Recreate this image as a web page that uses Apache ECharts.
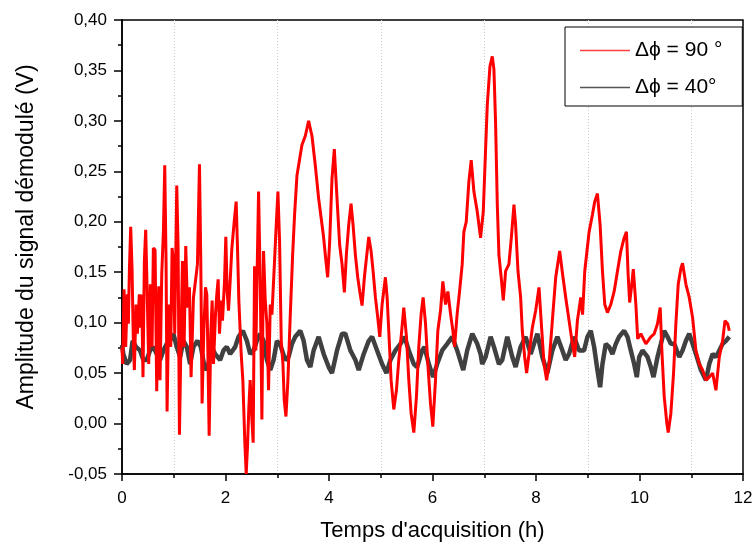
<!DOCTYPE html>
<html>
<head>
<meta charset="utf-8">
<script src="https://cdn.jsdelivr.net/npm/echarts@6/dist/echarts.min.js"></script>
<style>html,body{margin:0;padding:0;background:#fff}#c{width:756px;height:547px}</style>
</head>
<body>
<div id="c"></div>
<script>
const redName = 'Δϕ = 90 °';
const blackName = 'Δϕ = 40°';
const xTitle = "Temps d'acquisition (h)";
const yTitle = 'Amplitude du signal démodulé (V)';

const redHours = [0,0.013,0.039,0.071,0.103,0.123,0.142,0.168,0.194,0.219,0.239,0.271,0.297,0.335,0.361,0.381,0.406,0.432,0.458,0.484,0.516,0.548,0.581,0.606,0.639,0.671,0.71,0.735,0.768,0.8,0.826,0.852,0.871,0.897,0.916,0.942,0.968,0.994,1.019,1.058,1.084,1.11,1.142,1.168,1.2,1.232,1.265,1.303,1.335,1.381,1.419,1.458,1.497,1.523,1.548,1.581,1.613,1.639,1.658,1.684,1.716,1.742,1.768,1.806,1.832,1.858,1.884,1.916,1.942,1.981,2.006,2.032,2.058,2.09,2.123,2.168,2.206,2.232,2.258,2.303,2.335,2.374,2.4,2.426,2.452,2.477,2.51,2.535,2.561,2.587,2.606,2.639,2.671,2.703,2.735,2.768,2.8,2.832,2.865,2.897,2.929,2.974,3.013,3.045,3.077,3.11,3.135,3.168,3.206,3.252,3.297,3.335,3.381,3.432,3.477,3.542,3.606,3.671,3.735,3.8,3.865,3.897,3.929,3.974,4.013,4.058,4.103,4.155,4.206,4.252,4.297,4.335,4.381,4.426,4.465,4.51,4.555,4.594,4.639,4.684,4.723,4.768,4.813,4.852,4.897,4.942,4.981,5.026,5.09,5.123,5.155,5.2,5.252,5.303,5.348,5.394,5.445,5.497,5.542,5.587,5.639,5.69,5.735,5.781,5.819,5.865,5.91,5.961,6.006,6.058,6.103,6.155,6.2,6.252,6.297,6.348,6.394,6.426,6.477,6.523,6.574,6.606,6.652,6.703,6.748,6.8,6.865,6.929,6.981,7.026,7.058,7.11,7.155,7.187,7.219,7.252,7.284,7.329,7.368,7.413,7.477,7.523,7.574,7.606,7.652,7.703,7.735,7.781,7.819,7.865,7.929,7.994,8.058,8.103,8.155,8.206,8.252,8.316,8.381,8.458,8.506,8.574,8.639,8.703,8.748,8.8,8.865,8.9,8.942,9.026,9.09,9.135,9.187,9.239,9.284,9.329,9.381,9.445,9.51,9.574,9.639,9.703,9.748,9.78,9.81,9.845,9.88,9.93,9.965,10.026,10.123,10.219,10.284,10.348,10.4,10.432,10.477,10.529,10.555,10.606,10.658,10.703,10.748,10.8,10.832,10.897,10.961,11.026,11.09,11.155,11.219,11.284,11.348,11.413,11.477,11.542,11.606,11.652,11.703,11.735];
const redAmplitude = [0.075,0.059,0.133,0.076,0.128,0.099,0.151,0.195,0.154,0.082,0.053,0.118,0.089,0.128,0.095,0.128,0.046,0.161,0.192,0.135,0.059,0.138,0.076,0.174,0.172,0.032,0.136,0.043,0.148,0.190,0.256,0.158,0.012,0.095,0.118,0.076,0.174,0.161,0.089,0.236,0.174,-0.011,0.089,0.161,0.076,0.176,0.115,0.135,0.046,0.125,0.141,0.158,0.257,0.158,0.020,0.092,0.135,0.128,0.076,-0.012,0.089,0.122,0.059,0.108,0.128,0.143,0.089,0.122,0.102,0.141,0.185,0.131,0.112,0.141,0.174,0.200,0.220,0.174,0.122,0.069,0.043,-0.019,-0.050,-0.022,0.017,0.043,0.004,-0.019,0.156,0.0725,0.135,0.230,0.141,0.004,0.171,0.122,0.099,0.033,0.118,0.108,0.141,0.190,0.230,0.181,0.082,0.059,0.023,0.007,0.043,0.108,0.167,0.207,0.246,0.262,0.276,0.285,0.300,0.285,0.256,0.223,0.197,0.184,0.167,0.145,0.180,0.243,0.272,0.223,0.177,0.158,0.130,0.167,0.197,0.218,0.197,0.167,0.145,0.131,0.117,0.145,0.164,0.185,0.171,0.151,0.125,0.105,0.086,0.118,0.145,0.125,0.092,0.043,0.014,0.033,0.063,0.086,0.115,0.086,0.043,0.010,-0.009,0.027,0.076,0.109,0.125,0.099,0.059,0.020,-0.003,0.043,0.092,0.112,0.141,0.118,0.131,0.109,0.092,0.076,0.109,0.131,0.158,0.190,0.200,0.240,0.261,0.230,0.210,0.184,0.210,0.272,0.315,0.354,0.364,0.351,0.298,0.217,0.167,0.144,0.122,0.151,0.158,0.184,0.217,0.197,0.151,0.125,0.092,0.066,0.050,0.069,0.095,0.112,0.135,0.099,0.059,0.043,0.059,0.102,0.145,0.171,0.151,0.125,0.102,0.079,0.066,0.102,0.125,0.108,0.151,0.190,0.207,0.220,0.228,0.197,0.151,0.118,0.110,0.118,0.131,0.151,0.171,0.184,0.190,0.148,0.120,0.135,0.153,0.118,0.084,0.089,0.079,0.086,0.089,0.099,0.115,0.0725,0.027,0.000,-0.009,0.010,0.050,0.099,0.138,0.154,0.159,0.138,0.125,0.105,0.0725,0.059,0.053,0.043,0.046,0.050,0.033,0.066,0.082,0.102,0.099,0.092];

const blackHours = [0,0.026,0.09,0.155,0.206,0.271,0.348,0.413,0.477,0.542,0.606,0.671,0.735,0.8,0.865,0.929,0.994,1.058,1.123,1.187,1.252,1.316,1.381,1.458,1.523,1.606,1.671,1.735,1.8,1.897,1.961,2.026,2.09,2.187,2.252,2.335,2.413,2.477,2.542,2.606,2.671,2.735,2.8,2.865,2.929,2.994,3.058,3.155,3.219,3.284,3.348,3.445,3.51,3.574,3.639,3.703,3.8,3.897,3.994,4.058,4.155,4.252,4.316,4.413,4.51,4.574,4.671,4.768,4.832,4.929,5.026,5.11,5.187,5.284,5.381,5.458,5.542,5.639,5.703,5.8,5.845,5.929,6.013,6.09,6.187,6.284,6.381,6.477,6.594,6.671,6.768,6.865,6.929,6.961,7.026,7.123,7.187,7.284,7.348,7.445,7.542,7.606,7.703,7.8,7.897,7.961,8.026,8.123,8.219,8.316,8.413,8.51,8.574,8.639,8.735,8.832,8.929,8.994,9.058,9.123,9.187,9.239,9.284,9.348,9.413,9.477,9.542,9.606,9.703,9.768,9.832,9.897,9.948,9.994,10.058,10.155,10.219,10.271,10.348,10.413,10.477,10.542,10.606,10.671,10.768,10.832,10.897,10.961,11.026,11.09,11.187,11.284,11.348,11.413,11.477,11.542,11.606,11.671,11.735];
const blackAmplitude = [0.078,0.069,0.059,0.063,0.082,0.076,0.0725,0.063,0.063,0.0725,0.076,0.069,0.063,0.0725,0.079,0.082,0.089,0.076,0.066,0.082,0.076,0.059,0.076,0.082,0.076,0.053,0.059,0.076,0.069,0.063,0.0725,0.076,0.069,0.076,0.086,0.092,0.082,0.069,0.0725,0.082,0.089,0.082,0.063,0.053,0.063,0.082,0.078,0.063,0.066,0.079,0.086,0.092,0.082,0.063,0.056,0.0725,0.086,0.069,0.056,0.050,0.0725,0.089,0.089,0.0725,0.063,0.053,0.069,0.082,0.086,0.0725,0.059,0.050,0.063,0.0725,0.079,0.086,0.0725,0.059,0.056,0.0725,0.076,0.059,0.046,0.059,0.0725,0.079,0.086,0.0725,0.053,0.0725,0.089,0.079,0.069,0.059,0.066,0.086,0.076,0.059,0.063,0.086,0.066,0.056,0.076,0.086,0.069,0.079,0.089,0.066,0.050,0.0725,0.086,0.0725,0.063,0.069,0.086,0.0725,0.0725,0.086,0.092,0.076,0.053,0.036,0.059,0.079,0.076,0.069,0.079,0.086,0.092,0.086,0.0725,0.059,0.046,0.066,0.0725,0.066,0.056,0.046,0.066,0.079,0.092,0.086,0.079,0.079,0.066,0.0725,0.082,0.089,0.079,0.069,0.053,0.043,0.059,0.069,0.066,0.0725,0.079,0.082,0.086];

const xTicks = {min: 0, max: 12, interval: 2};
const yTicks = {min: -0.05, max: 0.40, interval: 0.05};

const FONT = "'Liberation Sans', Arial, sans-serif";
const zip = (a, b) => a.map((v, i) => [v, b[i]]);

const chart = echarts.init(document.getElementById('c'), null, {renderer: 'canvas'});
chart.setOption({
  animation: false,
  backgroundColor: '#fff',
  grid: {left: 122, right: 13, top: 20, bottom: 69, show: true, borderColor: '#000', borderWidth: 1.5, backgroundColor: 'transparent'},
  legend: {
    orient: 'vertical', left: 565, top: 27,
    data: [redName, blackName],
    icon: 'rect', itemWidth: 50, itemHeight: 1.5, itemGap: 16,
    padding: [13, 20, 8, 15],
    borderColor: '#000', borderWidth: 1, backgroundColor: '#fff',
    textStyle: {fontFamily: FONT, fontSize: 21, color: '#000'}
  },
  xAxis: {
    type: 'value', min: xTicks.min, max: xTicks.max, interval: xTicks.interval,
    name: xTitle, nameLocation: 'middle', nameGap: 46,
    nameTextStyle: {fontFamily: FONT, fontSize: 22, color: '#000'},
    axisLine: {show: true, onZero: false, lineStyle: {color: '#000', width: 1.5}},
    axisTick: {show: true, inside: false, length: 7, lineStyle: {color: '#000', width: 1.5}},
    minorTick: {show: true, splitNumber: 2, length: 4, lineStyle: {color: '#000', width: 1.5}},
    splitLine: {show: false},
    minorSplitLine: {show: true, lineStyle: {color: '#cccccc', type: [1, 2], width: 1}},
    axisLabel: {fontFamily: FONT, fontSize: 17, color: '#000', margin: 16}
  },
  yAxis: {
    type: 'value', min: yTicks.min, max: yTicks.max, interval: yTicks.interval,
    name: yTitle, nameLocation: 'middle', nameGap: 84,
    nameTextStyle: {fontFamily: FONT, fontSize: 23, color: '#000', padding: [0, 0, 0, 20]},
    axisLine: {show: true, onZero: false, lineStyle: {color: '#000', width: 1.5}},
    axisTick: {show: true, inside: false, length: 8, lineStyle: {color: '#000', width: 1.5}},
    minorTick: {show: true, splitNumber: 2, length: 4, lineStyle: {color: '#000', width: 1.5}},
    splitLine: {show: false},
    axisLabel: {fontFamily: FONT, fontSize: 17, color: '#000', margin: 15,
      formatter: v => v.toFixed(2).replace('.', ',')}
  },
  series: [
    {name: blackName, type: 'line', data: zip(blackHours, blackAmplitude), symbol: 'none', z: 2,
      lineStyle: {color: '#404040', width: 4.5}, itemStyle: {color: '#555555'}},
    {name: redName, type: 'line', data: zip(redHours, redAmplitude), symbol: 'none', z: 3,
      lineStyle: {color: '#ff0000', width: 3}, itemStyle: {color: '#ff4040'}}
  ]
});
</script>
</body>
</html>
